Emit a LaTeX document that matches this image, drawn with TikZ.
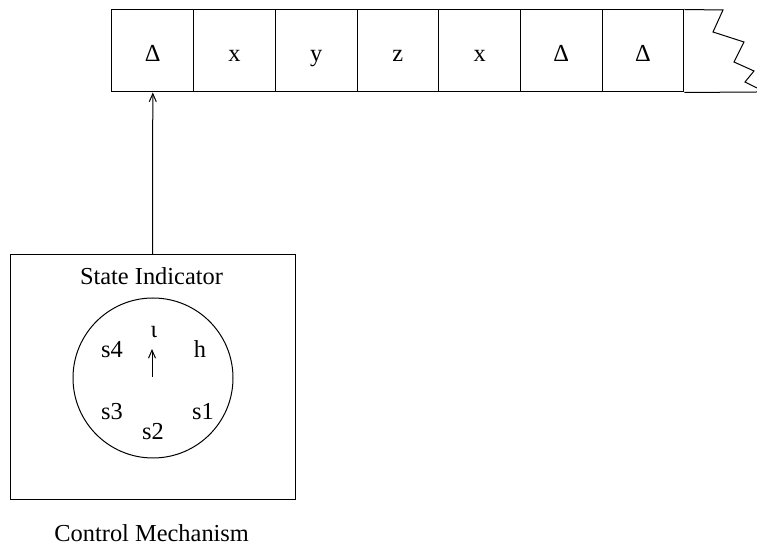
\documentclass[tikz,border=0pt]{standalone}
\usepackage{fontspec}
\setmainfont{Liberation Serif}
\usetikzlibrary{arrows.meta}
\begin{document}
\begin{tikzpicture}[x=0.5pt,y=-0.5pt,
  line width=0.5pt,
  cell/.style={draw, inner sep=0pt, minimum width=40.85pt, minimum height=41pt, text height=11pt, text depth=0.5pt, font=\fontsize{12.2}{14}\selectfont},
  lbl/.style={inner sep=0pt, anchor=base, font=\fontsize{12.2}{14}\selectfont},
  pointer/.style={-{Straight Barb[length=4pt,width=3.5pt]}}]
\useasboundingbox (0,0) rectangle (757,555);
\node[cell] (c1) at (152.8,51) {Δ};
\node[cell] (c2) at (234.5,51) {x};
\node[cell] (c3) at (316.2,51) {y};
\node[cell] (c4) at (397.9,51) {z};
\node[cell] (c5) at (479.6,51) {x};
\node[cell] (c6) at (561.3,51) {Δ};
\node[cell] (c7) at (643.0,51) {Δ};
\coordinate (t1) at (723,10);
\coordinate (t2) at (757,92);
\draw (c7.north east) -- (t1) -- (713,32) -- (744,42) -- (734,62) -- (754,71) -- (745,82) -- (757,88);
\draw (c7.south east) -- (t2);
\node[draw, inner sep=0pt, minimum width=142.5pt, minimum height=122.5pt] (box) at (152.5,377.5) {};
\node[lbl] (title) at (151.5,285) {State Indicator};
\node[draw, circle, inner sep=0pt, minimum size=80pt] (dial) at (153,378) {};
\node[lbl] (iota) at (154,338) {ι};
\node[lbl] (s4) at (112,358) {s4};
\node[lbl] (h) at (200,358) {h};
\node[lbl] (s3) at (112,420) {s3};
\node[lbl] (s1) at (203,420) {s1};
\node[lbl] (s2) at (153,440) {s2};
\coordinate (hand) at (152,377);
\coordinate (handtip) at (152,349);
\draw[pointer] (hand) -- (handtip);
\node[lbl] (cm) at (151.7,542) {Control Mechanism};
\draw[pointer] (box.north) -- (c1.south);
\end{tikzpicture}
\end{document}
